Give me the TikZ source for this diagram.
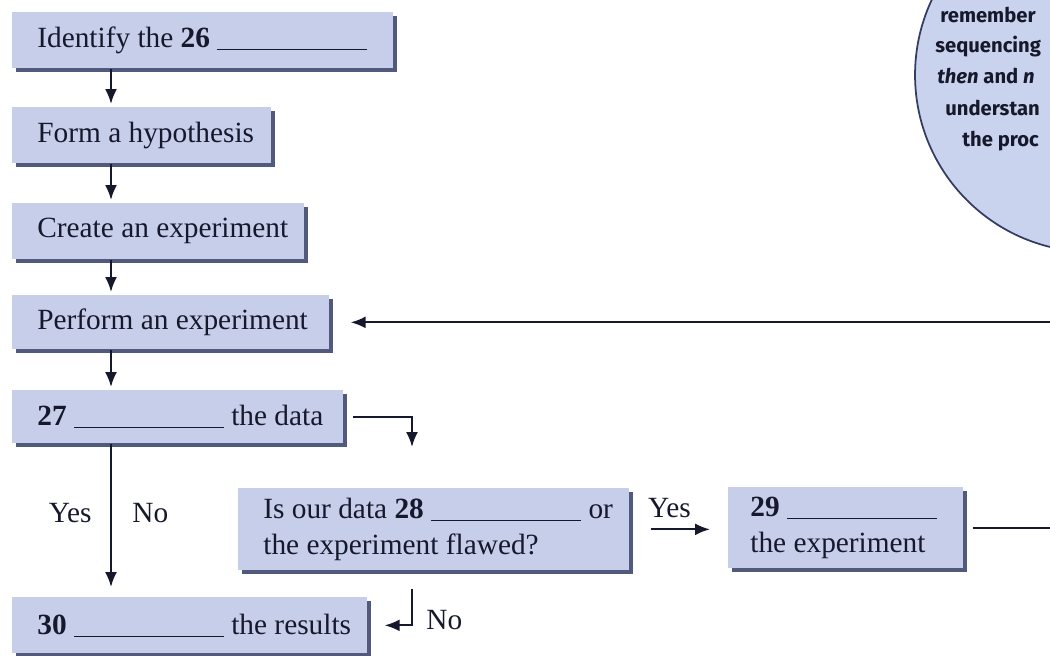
\documentclass[tikz,border=0pt]{standalone}
\usepackage{fontspec}
\setmainfont{Liberation Serif}
\newfontfamily\notefont{Fira Sans}
\usetikzlibrary{calc,shadows,arrows.meta}

\definecolor{boxblue}{HTML}{C6CEEA}
\definecolor{noteblue}{HTML}{CAD3EE}
\definecolor{navyedge}{HTML}{323D66}
\definecolor{ink}{HTML}{16182C}

\newcommand\stagefont{\fontsize{16.7}{20.4}\selectfont}
\newcommand\answerline{\rule[-1.6pt]{3cm}{0.8pt}}
\newcommand\fitbox[2]{\makebox[#1][l]{#2}}

\tikzset{
  stage/.style={fill=boxblue, anchor=north west, align=left, inner xsep=0.5cm, inner ysep=0pt,
    minimum height=1.12cm, text=ink, font=\stagefont,
    drop shadow={shadow xshift=0.08cm, shadow yshift=-0.08cm, fill=navyedge, opacity=0.85}},
  flow/.style={line width=1.2pt, -{Latex[length=0.3cm,width=0.24cm]}, draw=ink, shorten >=0.06cm},
  tag/.style={text=ink, font=\stagefont},
  note/.style={anchor=base west, inner sep=0pt, text=ink,
    font={\notefont\bfseries\fontsize{11.5}{13}\selectfont}}
}

\begin{document}
\begin{tikzpicture}[x=0.02cm,y=-0.02cm]
    \useasboundingbox (0,0) rectangle (1050,655);
    \clip (0,0) rectangle (1050,655);

    % tip circle, cut by the right edge
    \draw[draw=navyedge, fill=noteblue, line width=1pt] (1092,75) circle[radius=3.54cm];
    \node[note] (note1) at (940,23) {remember};
    \node[note] (note2) at (935,53) {sequencing};
    \node[note] (note3) at (937,84) {\textit{then} and \textit{n}};
    \node[note] (note4) at (945,116) {understan};
    \node[note] (note5) at (962,147) {the proc};

    \node[stage] (b1) at (12,12) {\fitbox{6.62cm}{Identify the \textbf{26} \answerline}};
    \node[stage] (b2) at (12,107) {\fitbox{4.18cm}{Form a hypothesis}};
    \node[stage] (b3) at (12,203) {\fitbox{4.84cm}{Create an experiment}};
    \node[stage, minimum height=1.08cm] (b4) at (12,295) {\fitbox{5.34cm}{Perform an experiment}};
    \node[stage, minimum height=1.06cm] (b5) at (12,390) {\fitbox{5.62cm}{\textbf{27} \answerline{} the data}};
    \node[stage] (b6) at (12,597) {\fitbox{6.1cm}{\textbf{30} \answerline{} the results}};
    \node[stage, minimum height=1.64cm] (b7) at (238,488)
        {\fitbox{6.82cm}{Is our data \textbf{28} \answerline{} or}\\the experiment flawed?};
    \node[stage, minimum height=1.62cm, inner xsep=0.44cm] (b8) at (728,487)
        {\fitbox{3.82cm}{\textbf{29} \answerline}\\the experiment};

    \coordinate (spine) at (111,0);
    \coordinate (drop) at (412,450);
    \coordinate (turn) at (1090,0);

    \foreach \a/\b in {b1/b2,b2/b3,b3/b4,b4/b5}
        \draw[flow] (\a.south -| spine) -- (\b.north -| spine);
    \draw[flow, shorten >=0.2cm] (b5.south -| spine) -- (b6.north -| spine)
        node[tag, pos=0.45, left=0.25cm] (yes1) {Yes}
        node[tag, pos=0.45, right=0.29cm] (no1) {No};
    \draw[flow] ($(b5.east)+(9,0)$) -| (drop);
    \draw[flow] ($(b7.south -| drop)+(0,18)$) |- ($(b6.east)+(14,0)$)
        node[tag, pos=0.5, right=0.15cm, yshift=0.1cm] (no2) {No};
    \draw[flow] ($(b7.east)+(21,0)$) -- ($(b7.east -| b8.west)+(-15,0)$)
        node[tag, pos=0.3, above=0.1cm] (yes2) {Yes};
    \draw[flow] ($(b8.east)+(9,0)$) -- (b8.east -| turn) -- (b4.east -| turn) -- ($(b4.east)+(18,0)$);
\end{tikzpicture}
\end{document}
